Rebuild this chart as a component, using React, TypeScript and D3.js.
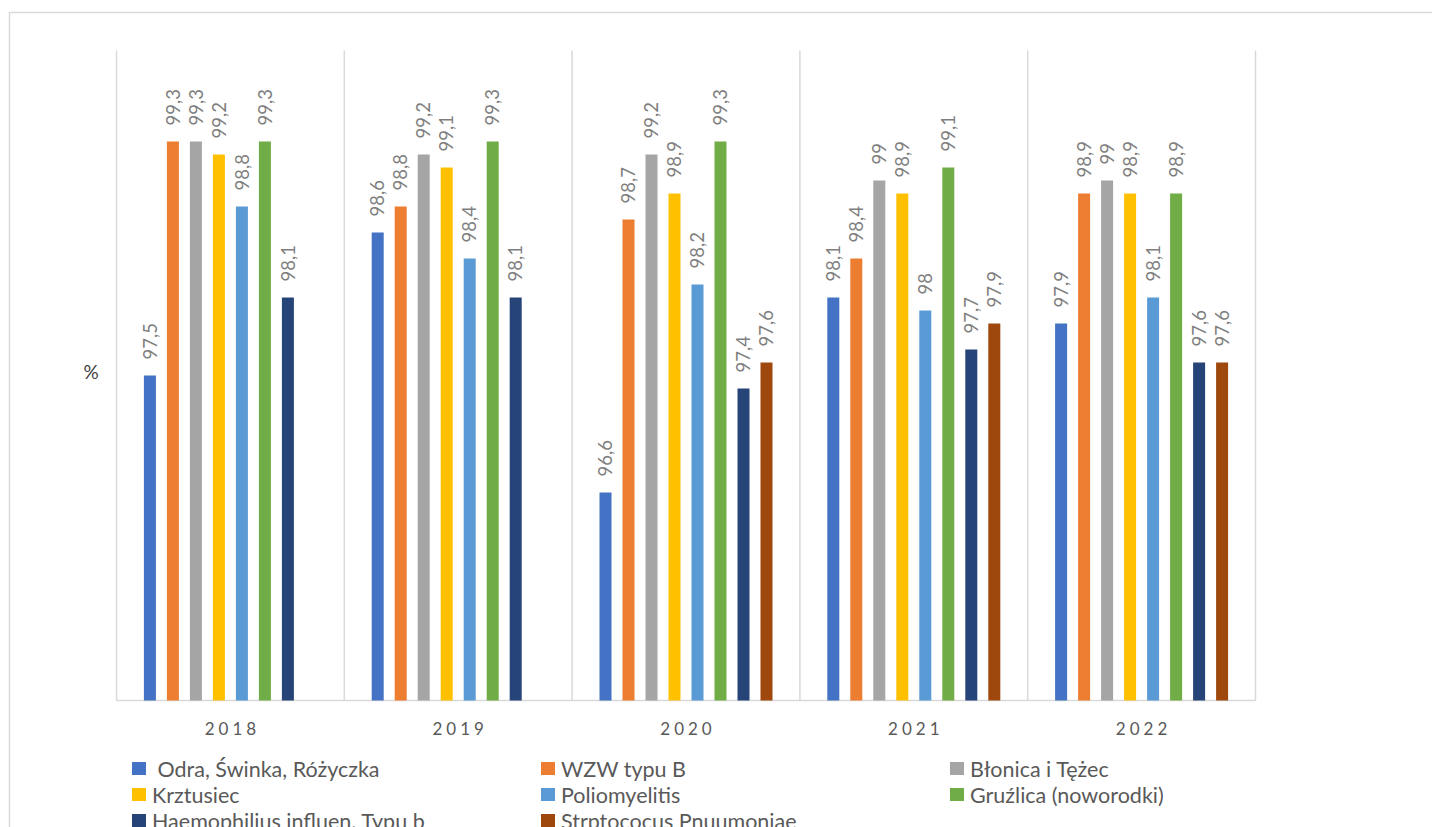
import React from "react";
import * as d3 from "d3";

const years = ["2018", "2019", "2020", "2021", "2022"];
const seriesNames = [
  " Odra, Świnka, Różyczka",
  "WZW typu B",
  "Błonica i Tężec",
  "Krztusiec",
  "Poliomyelitis",
  "Gruźlica (noworodki)",
  "Haemophilius influen. Typu b",
  "Strptococus Pnuumoniae",
];
const seriesColors = ["#4472C4", "#ED7D31", "#A5A5A5", "#FFC000", "#5B9BD5", "#70AD47", "#264478", "#9E480E"];
const odra = [97.5, 98.6, 96.6, 98.1, 97.9];
const wzw = [99.3, 98.8, 98.7, 98.4, 98.9];
const blonica = [99.3, 99.2, 99.2, 99, 99];
const krztusiec = [99.2, 99.1, 98.9, 98.9, 98.9];
const polio = [98.8, 98.4, 98.2, 98, 98.1];
const gruzlica = [99.3, 99.3, 99.3, 99.1, 98.9];
const haemophilus = [98.1, 98.1, 97.4, 97.7, 97.6];
const strepto: (number | null)[] = [null, null, 97.6, 97.9, 97.6];
const seriesValues: (number | null)[][] = [odra, wzw, blonica, krztusiec, polio, gruzlica, haemophilus, strepto];
const yDomain: [number, number] = [95, 100];

const W = 1432;
const H = 827;
const FONT = "Lato, 'Liberation Sans', sans-serif";

export default function App() {
  const plotLeft = 116.5;
  const plotRight = 1255.5;
  const plotTop = 50.5;
  const plotBottom = 700.5;

  const x0 = d3.scaleBand<string>().domain(years).range([plotLeft, plotRight]).padding(0);
  const gw = x0.bandwidth();
  const step = 23;
  const innerPad = (gw - step * seriesNames.length) / 2;
  const x1 = d3
    .scaleBand<string>()
    .domain(seriesNames)
    .range([innerPad, innerPad + step * seriesNames.length])
    .paddingInner(11 / 23)
    .paddingOuter(11 / 46);
  const y = d3.scaleLinear().domain(yDomain).range([plotBottom, plotTop]);

  const legendCols = [132, 541, 950];
  const legendRows = [769, 795, 821];

  return (
    <svg
      width={W}
      height={H}
      style={{ position: "absolute", left: 0, top: 0, background: "#fff" }}
      fontFamily={FONT}
    >
      <rect x={9.5} y={12.5} width={W} height={H} fill="#fff" stroke="#d9d9d9" strokeWidth={1.5} />
      {years.map((yr) => (
        <line key={"s" + yr} x1={x0(yr)!} x2={x0(yr)!} y1={plotTop} y2={plotBottom} stroke="#d9d9d9" strokeWidth={1.5} />
      ))}
      <line x1={plotRight} x2={plotRight} y1={plotTop} y2={plotBottom} stroke="#d9d9d9" strokeWidth={1.5} />
      <line x1={plotLeft} x2={plotRight} y1={plotBottom} y2={plotBottom} stroke="#d9d9d9" strokeWidth={1.5} />
      {years.map((yr, gi) => (
        <g key={yr} transform={`translate(${x0(yr)},0)`}>
          {seriesNames.map((s, si) => {
            const v = seriesValues[si][gi];
            if (v == null) return null;
            const bx = x1(s)!;
            const bw = x1.bandwidth();
            const top = y(v);
            const cx = bx + bw / 2;
            const ly = top - 16;
            return (
              <g key={s}>
                <rect x={bx} y={top} width={bw} height={plotBottom - top} fill={seriesColors[si]} />
                <text
                  transform={`translate(${cx},${ly}) rotate(-90)`}
                  dy="0.36em"
                  fontSize={18.5}
                  fill="#7f7f7f"
                  textAnchor="start"
                >
                  {String(v).replace(".", ",")}
                </text>
              </g>
            );
          })}
        </g>
      ))}
      {years.map((yr) => (
        <text
          key={"l" + yr}
          x={x0(yr)! + gw / 2 + 2}
          y={735}
          fontSize={17}
          letterSpacing={4}
          textAnchor="middle"
          fill="#595959"
        >
          {yr}
        </text>
      ))}
      <text x={91} y={379} fontSize={19} textAnchor="middle" fill="#404040">
        %
      </text>
      {seriesNames.map((s, i) => {
        const col = i % 3;
        const row = Math.floor(i / 3);
        const lx = legendCols[col];
        const ly = legendRows[row];
        return (
          <g key={"lg" + s}>
            <rect x={lx} y={ly - 7} width={14} height={13} fill={seriesColors[i]} />
            <text x={lx + 20} y={ly} dy="0.36em" fontSize={21.5} fill="#595959" style={{ whiteSpace: "pre" }}>
              {s}
            </text>
          </g>
        );
      })}
    </svg>
  );
}
